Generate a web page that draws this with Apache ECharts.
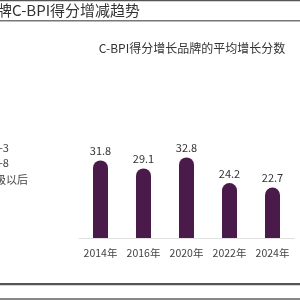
<!DOCTYPE html>
<html>
<head>
<meta charset="utf-8">
<script src="https://cdn.jsdelivr.net/npm/echarts@6/dist/echarts.min.js"></script>
<style>html,body{margin:0;padding:0;background:#fff}#c{width:300px;height:300px}</style>
</head>
<body>
<div id="c"></div>
<script>
var categories = ['2014年', '2016年', '2020年', '2022年', '2024年'];
var values = [31.8, 29.1, 32.8, 24.2, 22.7];
var headerText = '牌C-BPI得分增减趋势';
var chartTitle = 'C-BPI得分增长品牌的平均增长分数';
var sideTexts = ['-3', '-8', '级以后'];

var FONT = '"Noto Sans CJK SC", "Noto Sans", sans-serif';
var chart = echarts.init(document.getElementById('c'));
chart.setOption({
  animation: false,
  backgroundColor: '#fff',
  title: {
    text: chartTitle,
    left: 187, top: 37, textAlign: 'center',
    textStyle: { fontSize: 12, fontWeight: 'normal', color: '#333', fontFamily: FONT }
  },
  grid: { left: 79, top: 136, width: 215, height: 102 },
  xAxis: {
    type: 'category', data: categories,
    axisLine: { lineStyle: { color: '#e0e0e0' } },
    axisTick: { show: false },
    axisLabel: { interval: 0, color: '#444', fontSize: 10.5, margin: 10, fontFamily: FONT }
  },
  yAxis: { type: 'value', min: 5.7, max: 40, show: false, splitLine: { show: false } },
  series: [{
    type: 'bar', data: values, barWidth: 15,
    itemStyle: { color: '#4a1a4a', borderRadius: [7.5, 7.5, 0, 0] },
    label: { show: true, position: 'top', distance: 4, color: '#333', fontSize: 11, fontFamily: FONT }
  }],
  graphic: [
    { type: 'rect', shape: { x: 0, y: 0, width: 300, height: 1.2 }, style: { fill: '#555' } },
    { type: 'text', left: -3, top: 3, style: { text: headerText, font: '15px ' + FONT, fill: '#333' } },
    { type: 'rect', shape: { x: 0, y: 20, width: 300, height: 1.5 }, style: { fill: '#777' } },
    { type: 'text', left: -1, top: 142, style: { text: sideTexts[0], font: '11px ' + FONT, fill: '#444' } },
    { type: 'text', left: -1, top: 157, style: { text: sideTexts[1], font: '11px ' + FONT, fill: '#444' } },
    { type: 'text', left: -5, top: 174, style: { text: sideTexts[2], font: '11px ' + FONT, fill: '#444' } },
    { type: 'rect', shape: { x: 0, y: 283, width: 300, height: 2.2 }, style: { fill: '#555' } },
    { type: 'rect', shape: { x: 0, y: 298, width: 300, height: 2 }, style: { fill: '#888' } }
  ]
});
</script>
</body>
</html>
